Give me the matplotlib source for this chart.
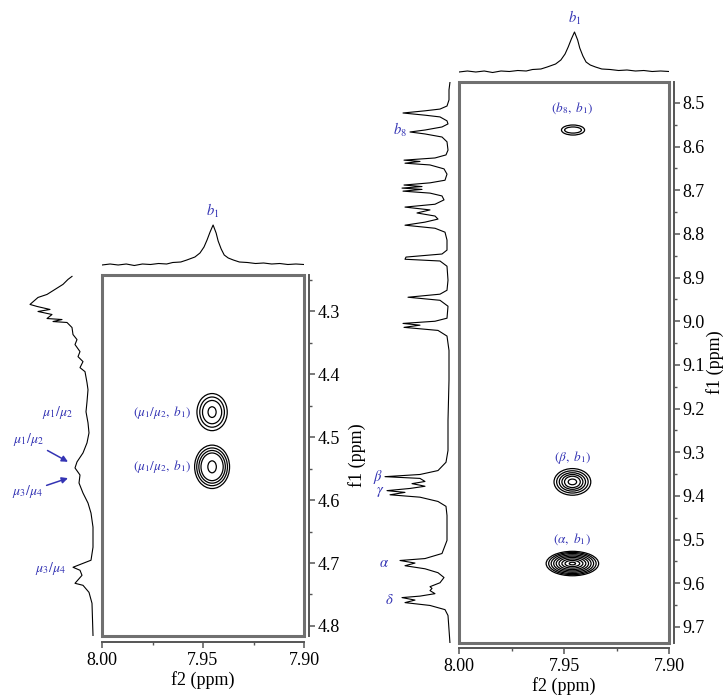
import matplotlib.pyplot as plt
from matplotlib.patches import Ellipse, Rectangle
from matplotlib.ticker import MultipleLocator

plt.rcParams["font.family"] = ["Liberation Serif", "DejaVu Serif"]
plt.rcParams["mathtext.fontset"] = "stix"

LABEL_BLUE = "#3434b4"
FRAME_GREY = "#707070"

# f2 projection (shared by both panels): ppm, intensity
F2_PPM = [8.000, 7.996, 7.992, 7.988, 7.984, 7.980, 7.976, 7.972, 7.968, 7.965,
          7.961, 7.958, 7.954, 7.9515, 7.9495, 7.948, 7.9465, 7.945, 7.9435, 7.9425,
          7.941, 7.9395, 7.9375, 7.935, 7.932, 7.928, 7.924, 7.920, 7.916, 7.912,
          7.908, 7.904, 7.900]
F2_INT = [0, 1, 0, 1, -0.5, 1, 0.5, 1.5, 1, 2.5,
          3, 5, 8, 12, 18, 25, 33, 40, 32, 24,
          16, 10, 7, 5, 3, 2.5, 1.5, 2, 1, 1.5,
          0.5, 1, 0.5]

# f1 projection, 4.2-4.8 ppm region
LEFT_F1_PPM = [4.2442, 4.2490, 4.2569, 4.2649, 4.2729, 4.2777, 4.2888, 4.2920, 4.2968,
               4.3000, 4.3048, 4.3112, 4.3128, 4.3160, 4.3175, 4.3255, 4.3367, 4.3447,
               4.3526, 4.3638, 4.3718, 4.3797, 4.3893, 4.3957, 4.4132, 4.4244, 4.4435,
               4.4595, 4.4770, 4.4930, 4.5089, 4.5249, 4.5392, 4.5488, 4.5600, 4.5727,
               4.5887, 4.6046, 4.6206, 4.6429, 4.6748, 4.6955, 4.7067, 4.7115, 4.7195,
               4.7322, 4.7354, 4.7466, 4.7640, 4.8151]
LEFT_F1_INT = [21, 25, 30, 38, 46, 55, 63, 56, 43,
               55, 41, 46, 31, 40, 26, 21, 20, 16,
               18, 13, 15, 10, 13, 8, 6, 5, 6,
               7, 5, 4, 6, 10, 16, 18, 13, 14,
               10, 5, 2, 0, 0, 2, 20, 13, 11,
               18, 10, 4, 1, 0]

# f1 projection, 8.4-9.7 ppm region
RIGHT_F1_PPM = [8.4518, 8.470, 8.493, 8.507, 8.514, 8.518, 8.523, 8.528, 8.532, 8.541,
                8.548, 8.555, 8.562, 8.5665, 8.571, 8.578, 8.589, 8.608, 8.619, 8.626,
                8.631, 8.634, 8.638, 8.642, 8.651, 8.663, 8.677, 8.683, 8.688, 8.6915,
                8.695, 8.698, 8.702, 8.7065, 8.713, 8.722, 8.732, 8.7385, 8.745, 8.752,
                8.759, 8.766, 8.773, 8.780, 8.787, 8.796, 8.814, 8.837, 8.846, 8.853,
                8.858, 8.862, 8.874, 8.906, 8.929, 8.938, 8.945, 8.952, 8.9656, 8.993,
                9.000, 9.005, 9.009, 9.014, 9.021, 9.034, 9.067, 9.135, 9.227, 9.296,
                9.323, 9.342, 9.351, 9.356, 9.360, 9.367, 9.372, 9.3755, 9.378, 9.383,
                9.388, 9.392, 9.3975, 9.403, 9.4128, 9.424, 9.445, 9.502, 9.532, 9.5436,
                9.548, 9.5539, 9.560, 9.567, 9.576, 9.587, 9.599, 9.608, 9.612, 9.617,
                9.624, 9.6296, 9.633, 9.6387, 9.6445, 9.651, 9.6606, 9.674, 9.7385]
RIGHT_F1_INT = [0, 1, 1, 3, 10, 25, 47, 25, 10, 3,
                2, 8, 25, 40, 25, 8, 3, 2, 4, 15,
                46, 30, 45, 20, 6, 3, 5, 20, 46, 28,
                48, 28, 47, 20, 8, 6, 15, 45, 20, 33,
                15, 12, 25, 45, 15, 5, 3, 3, 8, 44,
                45, 10, 3, 2, 3, 10, 42, 10, 2, 3,
                15, 47, 30, 46, 12, 3, 1, 1, 2, 2,
                4, 12, 30, 65, 30, 25, 38, 30, 25, 40,
                63, 45, 60, 30, 12, 4, 3, 3, 8, 25,
                50, 35, 45, 25, 12, 6, 10, 20, 18, 20,
                15, 30, 48, 35, 45, 20, 5, 2, 0]

# cross peaks: (f2, f1) centres and contour extents (full width f2, full height f1)
LEFT_CENTRES = [(7.9455, 4.460), (7.9455, 4.547)]
LEFT_W = [[0.0150, 0.0122, 0.0095, 0.0040],
          [0.0173, 0.0152, 0.0131, 0.0110, 0.0042]]
LEFT_H = [[0.059, 0.048, 0.037, 0.017],
          [0.069, 0.060, 0.052, 0.044, 0.019]]
LEFT_TAGS = [r"$(\mu_1/\mu_2,\ b_1)$", r"$(\mu_1/\mu_2,\ b_1)$"]
LEFT_TAG_POS = [(7.970, 4.460), (7.970, 4.547)]

RIGHT_CENTRES = [(7.9457, 8.562), (7.9460, 9.368), (7.9460, 9.555)]
RIGHT_W = [[0.0110, 0.0080],
           [0.0175, 0.0150, 0.0125, 0.0100, 0.0075, 0.0040],
           [0.0250, 0.0226, 0.0202, 0.0178, 0.0154, 0.0128, 0.0100, 0.0070, 0.0030]]
RIGHT_H = [[0.023, 0.014],
           [0.061, 0.051, 0.042, 0.034, 0.026, 0.013],
           [0.056, 0.051, 0.046, 0.040, 0.034, 0.028, 0.021, 0.014, 0.006]]
RIGHT_TAGS = [r"$(b_8,\ b_1)$", r"$(\beta,\ b_1)$", r"$(\alpha,\ b_1)$"]
RIGHT_TAG_POS = [(7.946, 8.511), (7.946, 9.312), (7.946, 9.500)]

W, H = 724, 696
fig = plt.figure(figsize=(W / 100, H / 100), dpi=100)


def px_axes(x0, y0, x1, y1):
    """Axes placed by pixel corners (top-left origin)"""
    return fig.add_axes([x0 / W, 1 - y1 / H, (x1 - x0) / W, (y1 - y0) / H])


def draw_2d(box, f1_lim, outward_x, centres, widths, heights, tags, tag_pos):
    ax = px_axes(*box)
    ax.set_xlim(8.00, 7.90)
    ax.set_ylim(*f1_lim)
    ax.add_patch(Rectangle((0, 0), 1, 1, transform=ax.transAxes, fill=False,
                           ec=FRAME_GREY, lw=2.2, clip_on=False, zorder=5))
    for side in ("top", "left"):
        ax.spines[side].set_visible(False)
    ax.spines["bottom"].set_position(("outward", outward_x))
    ax.spines["right"].set_position(("outward", 3.6))
    for side in ("bottom", "right"):
        ax.spines[side].set_color("#555555")
        ax.spines[side].set_linewidth(1.4)
    ax.yaxis.tick_right()
    ax.xaxis.set_major_locator(MultipleLocator(0.05))
    ax.xaxis.set_minor_locator(MultipleLocator(0.025))
    ax.yaxis.set_major_locator(MultipleLocator(0.1))
    ax.yaxis.set_minor_locator(MultipleLocator(0.05))
    ax.xaxis.set_major_formatter(plt.FormatStrFormatter("%.2f"))
    ax.yaxis.set_major_formatter(plt.FormatStrFormatter("%.1f"))
    ax.tick_params(which="major", length=4.5, width=1.1, color="#555555",
                   labelsize=13, pad=1.5)
    ax.tick_params(which="minor", length=2.5, width=1.0, color="#555555")
    ax.tick_params(axis="x", pad=3)
    ax.set_xlabel("f2 (ppm)", fontsize=13, labelpad=1)

    for (cx, cy), ws, hs in zip(centres, widths, heights):
        for w, h in zip(ws, hs):
            ax.add_patch(Ellipse((cx, cy), w, h, fill=False, ec="black", lw=0.9))
    for (tx, ty), tag in zip(tag_pos, tags):
        ax.text(tx, ty, tag, color=LABEL_BLUE, fontsize=9.5,
                ha="center", va="center")
    return ax


def draw_top(box, label_y):
    ax = px_axes(*box)
    ax.plot(F2_PPM, F2_INT, color="black", lw=0.8)
    ax.set_xlim(8.00, 7.90)
    ax.set_ylim(-5, 60)
    ax.axis("off")
    ax.text(7.945, label_y, r"$b_1$", color=LABEL_BLUE, fontsize=10.5,
            ha="center", va="center")
    return ax


def draw_side(box, ppm, inten, f1_lim, int_max):
    ax = px_axes(*box)
    ax.plot(inten, ppm, color="black", lw=0.8)
    ax.set_xlim(int_max, -5)
    ax.set_ylim(*f1_lim)
    ax.axis("off")
    return ax


# ---- left panel: 4.2-4.8 ppm ----
LEFT_LIM = (4.816, 4.242)
draw_2d((102, 275, 304, 636), LEFT_LIM, 4.3,
        LEFT_CENTRES, LEFT_W, LEFT_H, LEFT_TAGS, LEFT_TAG_POS)
fig.text(357 / W, 1 - 455 / H, "f1 (ppm)", rotation=90, fontsize=13,
         ha="center", va="center")

draw_top((102, 205, 304, 270), 54)
side_l = draw_side((20, 275, 98, 636), LEFT_F1_PPM, LEFT_F1_INT, LEFT_LIM, 73)
side_l.text(36, 4.461, r"$\mu_1/\mu_2$", color=LABEL_BLUE, fontsize=10,
            ha="center", va="center", clip_on=False)
side_l.text(43, 4.708, r"$\mu_3/\mu_4$", color=LABEL_BLUE, fontsize=10,
            ha="center", va="center", clip_on=False)
arrow = dict(arrowstyle="-|>", color=LABEL_BLUE, lw=1.1, mutation_scale=9,
             shrinkA=1, shrinkB=0)
side_l.annotate(r"$\mu_1/\mu_2$", xy=(25, 4.539), xytext=(65, 4.504),
                color=LABEL_BLUE, fontsize=10, ha="center", va="center",
                arrowprops=arrow, annotation_clip=False)
side_l.annotate(r"$\mu_3/\mu_4$", xy=(25, 4.565), xytext=(66, 4.587),
                color=LABEL_BLUE, fontsize=10, ha="center", va="center",
                arrowprops=arrow, annotation_clip=False)

# ---- right panel: 8.4-9.7 ppm ----
RIGHT_LIM = (9.737, 8.452)
draw_2d((459, 82, 669, 643), RIGHT_LIM, 3.6,
        RIGHT_CENTRES, RIGHT_W, RIGHT_H, RIGHT_TAGS, RIGHT_TAG_POS)
fig.text(715 / W, 1 - 362 / H, "f1 (ppm)", rotation=90, fontsize=13,
         ha="center", va="center")
draw_top((459, 12, 669, 77), 54)
side_r = draw_side((370, 82, 455, 643), RIGHT_F1_PPM, RIGHT_F1_INT, RIGHT_LIM, 80)
for txt, h, ppm in [(r"$b_8$", 50, 8.562), (r"$\beta$", 72, 9.356),
                    (r"$\gamma$", 70, 9.392), (r"$\alpha$", 66, 9.555),
                    (r"$\delta$", 61, 9.638)]:
    side_r.text(h, ppm, txt, color=LABEL_BLUE, fontsize=10.5,
                ha="center", va="center", clip_on=False)

fig.savefig("out.png", dpi=100)
